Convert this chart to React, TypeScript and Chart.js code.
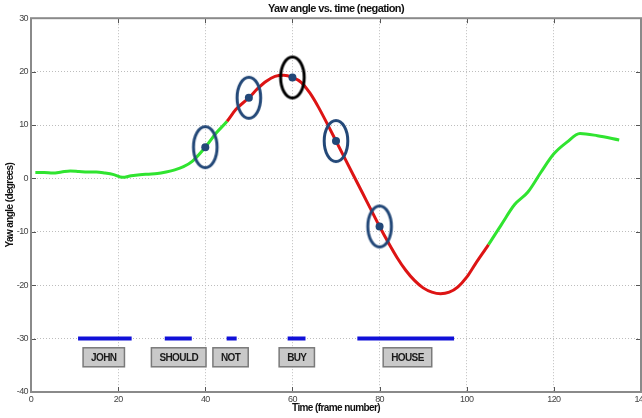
import { useEffect, useRef } from "react";
import { Chart, registerables } from "chart.js";

Chart.register(...registerables);

const chartTitle = "Yaw angle vs. time (negation)";
const xAxisTitle = "Time (frame number)";
const yAxisTitle = "Yaw angle (degrees)";

const xTicks = [0, 20, 40, 60, 80, 100, 120, 140];
const yTicks = [-40, -30, -20, -10, 0, 10, 20, 30];

// yaw curve
const frameX = [
  1, 3, 5, 7, 9, 11, 13, 15, 17, 19, 21, 23, 25, 27, 29, 31, 33, 35, 37, 40, 42.5, 45,
  47, 50, 52, 54, 56, 58, 60, 62, 64, 66, 68, 70, 72, 74, 76, 78, 80, 82, 84, 86, 88, 90,
  92, 94, 96, 98, 100, 102, 105, 108, 111, 114, 117, 120, 123, 126, 130, 135,
];
const yawY = [
  1.1, 1.1, 1.0, 1.2, 1.4, 1.3, 1.2, 1.2, 1.0, 0.7, 0.2, 0.5, 0.7, 0.8, 0.9, 1.2, 1.6, 2.2, 3.2, 5.85, 8.5, 10.7,
  12.9, 15.1, 16.8, 18.2, 19.1, 19.3, 18.9, 18.0, 16.0, 13.3, 10.2, 7.0, 3.8, 0.6, -2.6, -5.8, -9.0, -12.0, -14.8, -17.2, -19.1, -20.5,
  -21.3, -21.6, -21.3, -20.3, -18.5, -16.0, -12.4, -8.6, -4.9, -2.6, 1.1, 4.6, 6.8, 8.4, 8.0, 7.2,
];
const redStartX = 45;
const redEndX = 105;

// marked frames
const markerX = [40, 50, 60, 70, 80];
const markerY = [5.85, 15.1, 18.9, 7.0, -9.0];
const markerIsBlack = [false, false, true, false, false];

// words
const wordLabels = ["JOHN", "SHOULD", "NOT", "BUY", "HOUSE"];
const wordStart = [10.8, 30.7, 44.9, 58.9, 74.9];
const wordEnd = [23.1, 36.9, 47.2, 63.0, 97.1];
const wordLabelX = [16.7, 33.9, 45.8, 61.0, 86.4];
const wordBarY = -30;
const wordLabelY = -33.5;

const FONT = "'Liberation Sans', Arial, sans-serif";
const GREEN = "#30e430";
const RED = "#dd1414";
const NAVY = "#234878";

function makeEllipse(color: string) {
  const c = document.createElement("canvas");
  c.width = 32;
  c.height = 50;
  const g = c.getContext("2d")!;
  g.strokeStyle = color;
  g.lineWidth = 3;
  g.beginPath();
  g.ellipse(16, 25, 11.8, 20.5, 0, 0, Math.PI * 2);
  g.stroke();
  return c;
}

const condensePlugin = {
  id: "condensePlugin",
  beforeLayout(chart: any) {
    chart.ctx.letterSpacing = "-0.6px";
  },
  beforeDraw(chart: any) {
    chart.ctx.letterSpacing = "-0.6px";
  },
};

const framePlugin = {
  id: "framePlugin",
  afterDatasetsDraw(chart: any) {
    const { ctx, scales } = chart;
    const xs = scales.x;
    const ys = scales.y;
    ctx.save();
    ctx.font = `bold 10px ${FONT}`;
    ctx.textAlign = "center";
    ctx.textBaseline = "middle";
    for (let i = 0; i < wordLabels.length; i++) {
      const px = xs.getPixelForValue(wordLabelX[i]);
      const py = ys.getPixelForValue(wordLabelY);
      const w = ctx.measureText(wordLabels[i]).width + 16;
      const h = 19;
      ctx.fillStyle = "#c9c9c9";
      ctx.fillRect(px - w / 2, py - h / 2, w, h);
      ctx.strokeStyle = "#7a7a7a";
      ctx.lineWidth = 1.5;
      ctx.strokeRect(px - w / 2, py - h / 2, w, h);
      ctx.fillStyle = "#1a1a1a";
      ctx.fillText(wordLabels[i], px, py + 0.5);
    }
    ctx.restore();
  },
  afterDraw(chart: any) {
    const { ctx, chartArea, scales } = chart;
    const { left, right, top, bottom } = chartArea;
    ctx.save();
    ctx.strokeStyle = "#555";
    ctx.lineWidth = 1;
    const tl = 5;
    ctx.beginPath();
    for (const v of xTicks) {
      const px = Math.round(scales.x.getPixelForValue(v)) + 0.5;
      ctx.moveTo(px, bottom);
      ctx.lineTo(px, bottom - tl);
      ctx.moveTo(px, top);
      ctx.lineTo(px, top + tl);
    }
    for (const v of yTicks) {
      const py = Math.round(scales.y.getPixelForValue(v)) + 0.5;
      ctx.moveTo(left, py);
      ctx.lineTo(left + tl, py);
      ctx.moveTo(right, py);
      ctx.lineTo(right - tl, py);
    }
    ctx.stroke();
    ctx.strokeStyle = "#8a8a8a";
    ctx.lineWidth = 2;
    ctx.strokeRect(left, top, right - left, bottom - top);
    ctx.restore();
  },
};

export default function App() {
  const ref = useRef<HTMLCanvasElement>(null);

  useEffect(() => {
    if (!ref.current) return;
    const blue = makeEllipse(NAVY);
    const black = makeEllipse("#000000");

    const barData: any[] = [];
    for (let i = 0; i < wordStart.length; i++) {
      barData.push({ x: wordStart[i], y: wordBarY });
      barData.push({ x: wordEnd[i], y: wordBarY });
      barData.push({ x: wordEnd[i] + 0.01, y: null });
    }

    const chart = new Chart(ref.current, {
      type: "line",
      data: {
        datasets: [
          {
            label: "markers",
            data: markerX.map((x, i) => ({ x, y: markerY[i] })),
            showLine: false,
            pointStyle: markerIsBlack.map((b) => (b ? black : blue)) as any,
            pointRadius: 10,
            order: 1,
          },
          {
            label: "dots",
            data: markerX.map((x, i) => ({ x, y: markerY[i] })),
            showLine: false,
            pointRadius: 4,
            pointBorderWidth: 0,
            pointBackgroundColor: NAVY,
            order: 0,
          },
          {
            label: "yaw",
            data: frameX.map((x, i) => ({ x, y: yawY[i] })),
            borderWidth: 3,
            pointRadius: 0,
            cubicInterpolationMode: "monotone",
            borderColor: GREEN,
            segment: {
              borderColor: (c: any) =>
                c.p0.parsed.x >= redStartX && c.p1.parsed.x <= redEndX ? RED : GREEN,
            },
            order: 3,
          },
          {
            label: "words",
            data: barData,
            borderWidth: 4,
            borderColor: "#1010d8",
            borderCapStyle: "butt",
            pointRadius: 0,
            spanGaps: false,
            order: 3,
          },
        ],
      },
      options: {
        animation: false,
        responsive: false,
        events: [],
        layout: { padding: { left: 0, right: 19, top: 0, bottom: 0 } },
        plugins: {
          legend: { display: false },
          tooltip: { enabled: false },
          title: {
            display: true,
            text: chartTitle,
            fullSize: false,
            color: "#111",
            font: { family: FONT, size: 11, weight: "bold" },
            padding: { top: 2, bottom: 3 },
          },
        },
        scales: {
          x: {
            type: "linear",
            min: 0,
            max: 140,
            afterBuildTicks: (s: any) => {
              s.ticks = xTicks.map((v) => ({ value: v }));
            },
            afterFit: (s: any) => {
              s.height = 26;
            },
            ticks: {
              color: "#444",
              font: { family: FONT, size: 9 },
              padding: 2,
              maxRotation: 0,
            },
            grid: { color: "#bdbdbd", lineWidth: 1, drawTicks: false },
            border: { display: false, dash: [1, 2] },
            title: {
              display: true,
              text: xAxisTitle,
              color: "#111",
              font: { family: FONT, size: 10, weight: "bold" },
              padding: { top: 0, bottom: 4 },
            },
          },
          y: {
            type: "linear",
            min: -40,
            max: 30,
            afterBuildTicks: (s: any) => {
              s.ticks = yTicks.map((v) => ({ value: v }));
            },
            afterFit: (s: any) => {
              s.width = 31;
            },
            ticks: {
              color: "#444",
              font: { family: FONT, size: 9 },
              padding: 3,
            },
            grid: { color: "#bdbdbd", lineWidth: 1, drawTicks: false },
            border: { display: false, dash: [1, 2] },
            title: {
              display: true,
              text: yAxisTitle,
              color: "#111",
              font: { family: FONT, size: 10, weight: "bold" },
              padding: { top: 4, bottom: 0 },
            },
          },
        },
      },
      plugins: [condensePlugin, framePlugin],
    });
    return () => chart.destroy();
  }, []);

  return (
    <div
      style={{
        position: "fixed",
        left: 0,
        top: 0,
        width: 642,
        height: 418,
        overflow: "hidden",
        background: "#fff",
      }}
    >
      <canvas ref={ref} width={660} height={418} style={{ display: "block" }} />
    </div>
  );
}
